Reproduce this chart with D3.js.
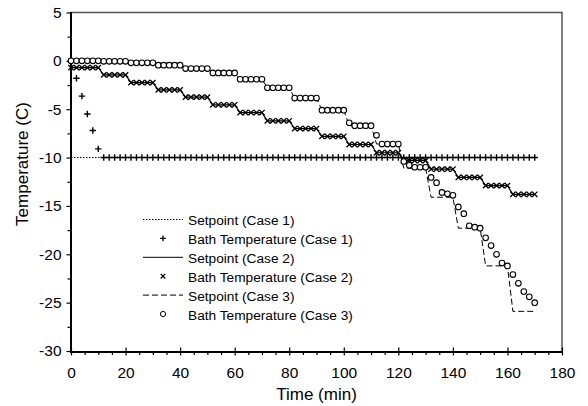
<!DOCTYPE html>
<html>
<head>
<meta charset="utf-8">
<script src="https://cdn.jsdelivr.net/npm/d3@7"></script>
<style>
body { margin: 0; background: #fff; }
svg { display: block; font-family: "Liberation Sans", Arial, sans-serif; }
</style>
</head>
<body>
<svg id="chart" width="588" height="406"></svg>
<script>
// axis ticks
var xTicks = [0, 20, 40, 60, 80, 100, 120, 140, 160, 180];
var yTicks = [5, 0, -5, -10, -15, -20, -25, -30];

// sample times (min), one reading every 2 minutes
var times = d3.range(0, 171, 2);

// setpoint levels, each held for 10 minutes starting at these times
var levelStarts = [0, 10, 20, 30, 40, 50, 60, 70, 80, 90, 100, 110, 120, 130, 140, 150, 160];
var setpoint1 = -10;
var setpoint2 = [-0.7, -1.45, -2.25, -3.0, -3.75, -4.55, -5.35, -6.2, -7.0, -7.8, -8.65, -9.5, -10.3, -11.2, -12.05, -12.9, -13.8];
var setpoint3 = [0, -0.05, -0.2, -0.45, -0.8, -1.25, -1.9, -2.78, -3.85, -5.1, -6.7, -8.6, -11.1, -14.1, -17.3, -21.2, -25.9];

// bath temperatures at each sample time
var bath1 = [
  0, -1.8, -3.65, -5.5, -7.2, -9.1,
  -10, -10, -10, -10, -10, -10, -10, -10, -10, -10,
  -10, -10, -10, -10, -10, -10, -10, -10, -10, -10,
  -10, -10, -10, -10, -10, -10, -10, -10, -10, -10,
  -10, -10, -10, -10, -10, -10, -10, -10, -10, -10,
  -10, -10, -10, -10, -10, -10, -10, -10, -10, -10,
  -10, -10, -10, -10, -10, -10, -10, -10, -10, -10,
  -10, -10, -10, -10, -10, -10, -10, -10, -10, -10,
  -10, -10, -10, -10, -10, -10, -10, -10, -10, -10
];
var bath2 = [
  -0.7, -0.7, -0.7, -0.7, -0.7, -0.7,
  -1.45, -1.45, -1.45, -1.45, -1.45,
  -2.25, -2.25, -2.25, -2.25, -2.25,
  -3.0, -3.0, -3.0, -3.0, -3.0,
  -3.75, -3.75, -3.75, -3.75, -3.75,
  -4.55, -4.55, -4.55, -4.55, -4.55,
  -5.35, -5.35, -5.35, -5.35, -5.35,
  -6.2, -6.2, -6.2, -6.2, -6.2,
  -7.0, -7.0, -7.0, -7.0, -7.0,
  -7.8, -7.8, -7.8, -7.8, -7.8,
  -8.65, -8.65, -8.65, -8.65, -8.65,
  -9.5, -9.5, -9.5, -9.5, -9.5,
  -10.3, -10.3, -10.3, -10.3, -10.3,
  -11.2, -11.2, -11.2, -11.2, -11.2,
  -12.05, -12.05, -12.05, -12.05, -12.05,
  -12.9, -12.9, -12.9, -12.9, -12.9,
  -13.8, -13.8, -13.8, -13.8, -13.8
];
var bath3 = [
  0, 0, 0, 0, 0, 0,
  -0.05, -0.05, -0.05, -0.05, -0.05,
  -0.2, -0.2, -0.2, -0.2, -0.2,
  -0.45, -0.45, -0.45, -0.45, -0.45,
  -0.8, -0.8, -0.8, -0.8, -0.8,
  -1.25, -1.25, -1.25, -1.25, -1.25,
  -1.9, -1.9, -1.9, -1.9, -1.9,
  -2.78, -2.78, -2.78, -2.78, -2.78,
  -3.85, -3.85, -3.85, -3.85, -3.85,
  -5.1, -5.1, -5.1, -5.1, -5.1,
  -6.4, -6.7, -6.7, -6.7, -6.7,
  -7.7, -8.6, -8.6, -8.6, -8.6,
  -10.4, -10.8, -11.0, -11.0, -11.0,
  -12.05, -12.6, -13.6, -13.75, -13.9,
  -15.1, -15.8, -17.05, -17.2, -17.3,
  -18.3, -19.1, -20.0, -20.9, -21.2,
  -22.1, -23.0, -23.85, -24.4, -25.0
];

var legendLabels = [
  'Setpoint (Case 1)', 'Bath Temperature (Case 1)',
  'Setpoint (Case 2)', 'Bath Temperature (Case 2)',
  'Setpoint (Case 3)', 'Bath Temperature (Case 3)'
];

var plotLeft = 71, plotRight = 562, plotTop = 12.5, plotBottom = 351;

var svg = d3.select('#chart');
var x = d3.scaleLinear().domain([0, 180]).range([plotLeft, plotRight]);
var y = d3.scaleLinear().domain([-30, 5]).range([plotBottom, plotTop]);

var plus = 'M-3.2,0H3.2M0,-3.2V3.2';
var cross = 'M-2.7,-2.7L2.7,2.7M-2.7,2.7L2.7,-2.7';
var plusSmall = 'M-2.8,0H2.8M0,-2.8V2.8';
var crossSmall = 'M-2.3,-2.3L2.3,2.3M-2.3,2.3L2.3,-2.3';

// frame: grey top/right, black axes
svg.append('path')
    .attr('d', `M${plotLeft},${plotTop}H${plotRight}V${plotBottom}`)
    .attr('fill', 'none')
    .attr('stroke', '#555')
    .attr('stroke-width', 1.5);

// minor ticks
svg.append('g')
    .attr('transform', `translate(0,${plotBottom})`)
    .call(d3.axisBottom(x).tickValues(d3.range(0, 181, 5).filter(d => d % 20)).tickSize(4).tickFormat(''))
    .call(g => g.select('.domain').remove())
    .call(g => g.selectAll('line').attr('stroke', '#000').attr('stroke-width', 1.2));
svg.append('g')
    .attr('transform', `translate(${plotLeft},0)`)
    .call(d3.axisLeft(y).tickValues(d3.range(-30, 5.1, 2.5).filter(d => d % 5)).tickSize(3.5).tickFormat(''))
    .call(g => g.select('.domain').remove())
    .call(g => g.selectAll('line').attr('stroke', '#000').attr('stroke-width', 1.2));

// major ticks
svg.append('g')
    .attr('transform', `translate(0,${plotBottom})`)
    .call(d3.axisBottom(x).tickValues(xTicks).tickSize(4.5).tickPadding(11).tickFormat(d => String(d)))
    .call(g => g.select('.domain').remove())
    .call(g => g.selectAll('line').attr('y1', -3.5).attr('stroke', '#000').attr('stroke-width', 1.2))
    .call(g => g.selectAll('text').attr('fill', '#000').style('font-size', '15.5px'));
svg.append('g')
    .attr('transform', `translate(${plotLeft},0)`)
    .call(d3.axisLeft(y).tickValues(yTicks).tickSize(4.5).tickPadding(5).tickFormat(d => String(d)))
    .call(g => g.select('.domain').remove())
    .call(g => g.selectAll('line').attr('stroke', '#000').attr('stroke-width', 1.2))
    .call(g => g.selectAll('text').attr('fill', '#000').style('font-size', '15.5px'));

svg.append('path')
    .attr('d', `M${plotLeft},${plotTop - 0.5}V${plotBottom + 1}H${plotRight + 1}`)
    .attr('fill', 'none')
    .attr('stroke', '#000')
    .attr('stroke-width', 2);

// axis titles
svg.append('text')
    .attr('x', (plotLeft + plotRight) / 2)
    .attr('y', 400)
    .attr('text-anchor', 'middle')
    .style('font-size', '17px')
    .text('Time (min)');
svg.append('text')
    .attr('transform', 'translate(28,164) rotate(-90)')
    .attr('text-anchor', 'middle')
    .style('font-size', '17px')
    .text('Temperature (C)');

var line = d3.line().x(d => x(d[0])).y(d => y(d[1]));

function stepPoints(levels) {
    var pts = [];
    levels.forEach((v, i) => {
        var t = levelStarts[i];
        pts.push([i === 0 ? t : t + 2, v]);
        pts.push([t + 10, v]);
    });
    return pts;
}

function pairs(values) {
    return values.map((v, i) => [times[i], v]);
}

var plot = svg.append('g');

// case 1
plot.append('path')
    .attr('d', line([[0, setpoint1], [170, setpoint1]]))
    .attr('fill', 'none')
    .attr('stroke', '#000')
    .attr('stroke-width', 1)
    .attr('stroke-dasharray', '1.5,1.5');
plot.append('g').selectAll('path')
    .data(pairs(bath1))
    .enter().append('path')
    .attr('transform', d => `translate(${x(d[0])},${y(d[1])})`)
    .attr('d', plus)
    .attr('stroke', '#000')
    .attr('stroke-width', 1.4);

// case 2
plot.append('path')
    .attr('d', line(stepPoints(setpoint2)))
    .attr('fill', 'none')
    .attr('stroke', '#000')
    .attr('stroke-width', 1.2);
plot.append('g').selectAll('path')
    .data(pairs(bath2))
    .enter().append('path')
    .attr('transform', d => `translate(${x(d[0])},${y(d[1])})`)
    .attr('d', cross)
    .attr('stroke', '#000')
    .attr('stroke-width', 1.3);

// case 3
plot.append('path')
    .attr('d', line(stepPoints(setpoint3)))
    .attr('fill', 'none')
    .attr('stroke', '#000')
    .attr('stroke-width', 1)
    .attr('stroke-dasharray', '6,3');
plot.append('g').selectAll('circle')
    .data(pairs(bath3))
    .enter().append('circle')
    .attr('cx', d => x(d[0]))
    .attr('cy', d => y(d[1]))
    .attr('r', 2.8)
    .attr('fill', '#fff')
    .attr('stroke', '#000')
    .attr('stroke-width', 1.1);

// legend
var legend = svg.append('g').selectAll('g')
    .data(legendLabels)
    .enter().append('g')
    .attr('transform', (d, i) => `translate(0,${220.5 + i * 18.9})`);
legend.append('text')
    .attr('x', 188)
    .attr('dy', '0.35em')
    .style('font-size', '13.7px')
    .text(d => d);

var dashes = ['1.5,1.5', null, null, null, '6,3', null];
legend.filter((d, i) => i % 2 === 0).append('line')
    .attr('x1', 143).attr('x2', 183)
    .attr('y1', -1).attr('y2', -1)
    .attr('stroke', '#000')
    .attr('stroke-width', 1)
    .attr('stroke-dasharray', (d, i) => dashes[i * 2]);
legend.filter((d, i) => i === 1).append('path')
    .attr('transform', 'translate(163,-1)')
    .attr('d', plusSmall)
    .attr('stroke', '#000')
    .attr('stroke-width', 1.3);
legend.filter((d, i) => i === 3).append('path')
    .attr('transform', 'translate(163,-1)')
    .attr('d', crossSmall)
    .attr('stroke', '#000')
    .attr('stroke-width', 1.2);
legend.filter((d, i) => i === 5).append('circle')
    .attr('cx', 163).attr('cy', -1)
    .attr('r', 2.6)
    .attr('fill', '#fff')
    .attr('stroke', '#000');
</script>
</body>
</html>
